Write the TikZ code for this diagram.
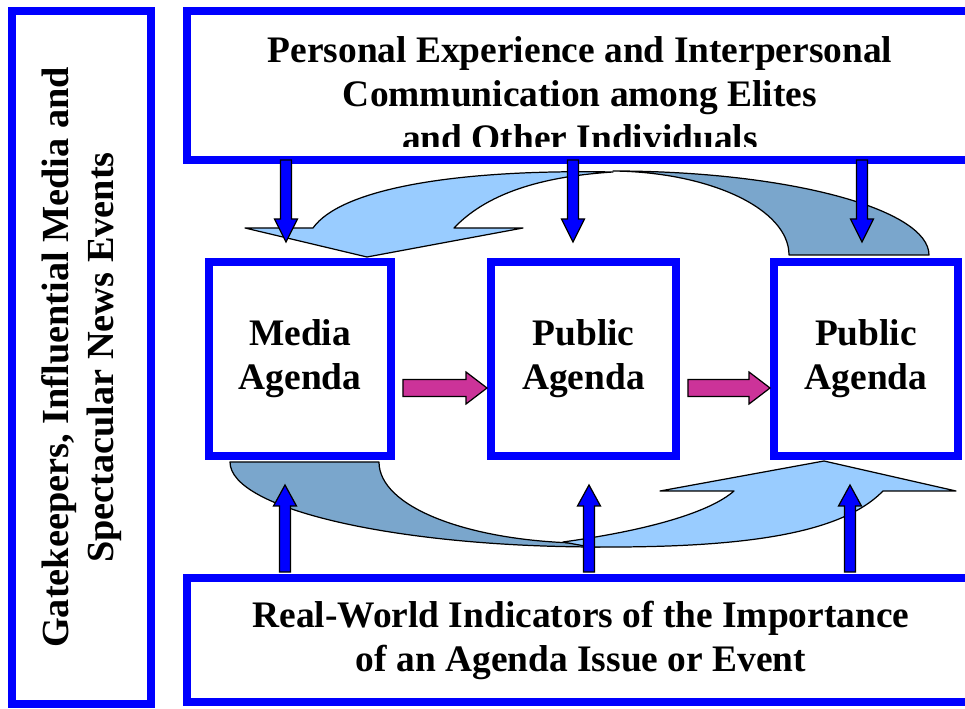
\documentclass[tikz,border=0pt]{standalone}
\usepackage{fontspec}
\setmainfont{Liberation Serif}
\usetikzlibrary{calc,positioning}
\definecolor{agblue}{RGB}{0,0,255}
\definecolor{arclight}{RGB}{153,204,255}
\definecolor{arcdark}{RGB}{122,166,204}
\definecolor{flowpink}{RGB}{204,51,153}
\tikzset{
  lbl/.style={font=\bfseries\fontsize{21.3}{25}\selectfont, align=center},
  abox/.style={draw=agblue, line width=0.16cm, fill=white, outer sep=0pt, lbl},
  arc/.style={draw=black, line width=0.7pt, line join=round},
}
% block arrow: start, end, fill, shaft half width, head half width, head length
\newcommand{\blockarrow}[6]{%
  \coordinate (ba-s) at (#1);
  \coordinate (ba-e) at (#2);
  \coordinate (ba-h) at ($(ba-e)!#6!(ba-s)$);
  \draw[fill=#3, line width=0.7pt, line join=miter]
    ($(ba-s)!#4!90:(ba-e)$) -- ($(ba-h)!#4!-90:(ba-s)$) -- ($(ba-h)!#5!-90:(ba-s)$)
    -- (ba-e) -- ($(ba-h)!#5!90:(ba-s)$) -- ($(ba-h)!#4!90:(ba-s)$)
    -- ($(ba-s)!#4!-90:(ba-e)$) -- cycle;
}
\begin{document}
\begin{tikzpicture}[x=0.02cm, y=-0.02cm]
  \useasboundingbox (0,0) rectangle (965,709);

  % Frame boxes
  \node[abox, rotate=90, minimum width=13.86cm, minimum height=2.78cm,
        font=\bfseries\fontsize{21.8}{25.5}\selectfont] (gate) at (81.5,357.5)
    {Gatekeepers, Influential Media and\\Spectacular News Events};
  \node[abox, minimum width=15.76cm, minimum height=2.98cm] (top) at (581,85.5) {};
  \node[abox, minimum width=15.76cm, minimum height=2.48cm] (bot) at (581,640)
    {Real-World Indicators of the Importance\\of an Agenda Issue or Event};

  % Text of the top box, cut off at its lower edge
  \begin{scope}
    \clip (top.north west) rectangle ($(top.south east)+(0,-13)$);
    \node[lbl] (toptxt) at (580,94)
      {Personal Experience and Interpersonal\\Communication among Elites\\and Other Individuals};
  \end{scope}

  % Agenda boxes
  \node[abox, minimum width=3.64cm, minimum height=3.88cm] (media) at (300,359) {Media\\Agenda};
  \node[abox, minimum width=3.70cm, minimum height=3.88cm] (pub1) at (583.5,359) {Public\\Agenda};
  \node[abox, minimum width=3.68cm, minimum height=3.88cm] (pub2) at (866,359) {Public\\Agenda};

  % Curved arrow over the top (tail above pub2, head onto media)
  \fill[arc, fill=arcdark] (789,255) -- (929,255) .. controls (929,209) and (787,171) .. (613,171)
    .. controls (710,172) and (789,209) .. (789,255) -- cycle;
  \fill[arc, fill=arclight] (613,172) .. controls (450,169) and (340,190) .. (313,228)
    -- (245,228) -- (367,257) -- (523,228) -- (454,228)
    .. controls (490,190) and (550,176) .. (613,172) -- cycle;

  % Curved arrow underneath (tail below media, head onto pub2)
  \fill[arc, fill=arcdark] (230,462) -- (379,462) .. controls (379,507) and (467,540) .. (575,543)
    -- (600,547) .. controls (396,547) and (230,509) .. (230,462) -- cycle;
  \fill[arc, fill=arclight] (563,542) .. controls (650,530) and (710,512) .. (734,491)
    -- (660,491) -- (824,461) -- (956,491) -- (883,491)
    .. controls (840,535) and (740,548) .. (590,547) -- cycle;

  % Flow between agendas
  \blockarrow{$(media.east)+(12,29)$}{$(pub1.west)+(-4,29)$}{flowpink}{0.17cm}{0.32cm}{0.42cm}
  \blockarrow{$(pub1.east)+(12,29)$}{$(pub2.west)+(-4,29)$}{flowpink}{0.17cm}{0.32cm}{0.42cm}

  % Influence from the top box
  \coordinate (dn1) at (286,242);
  \coordinate (dn2) at (573,242);
  \coordinate (dn3) at (862,242);
  \foreach \c in {dn1,dn2,dn3}{
    \blockarrow{top.south -| \c}{\c}{agblue}{0.11cm}{0.23cm}{0.46cm}
  }

  % Influence from the bottom box
  \coordinate (up1) at (285,485);
  \coordinate (up2) at (589,485);
  \coordinate (up3) at (850,485);
  \foreach \c in {up1,up2,up3}{
    \blockarrow{$(bot.north -| \c)+(0,-6)$}{\c}{agblue}{0.11cm}{0.23cm}{0.42cm}
  }
\end{tikzpicture}
\end{document}
